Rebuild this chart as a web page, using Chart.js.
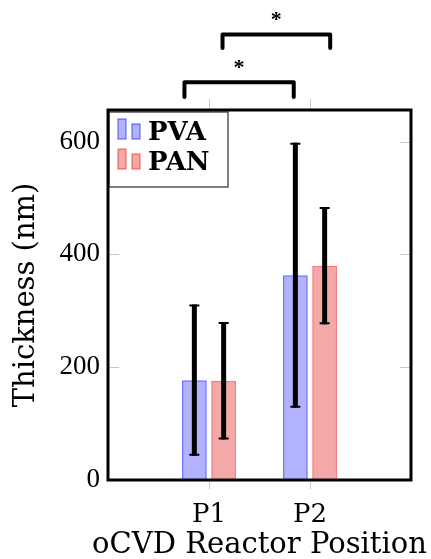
<!DOCTYPE html>
<html>
<head>
<meta charset="utf-8">
<script src="https://cdn.jsdelivr.net/npm/chart.js@4"></script>
<style>
  html, body { margin: 0; padding: 0; background: #fff; }
  #wrap { width: 431px; height: 559px; }
</style>
</head>
<body>
<div id="wrap"><canvas id="chart"></canvas></div>
<script>
// Données
const positions = ['', 'P1', 'P2', ''];
const pvaMean = [null, 177, 363, null];
const pvaErr = [null, 134, 235, null];
const panMean = [null, 176, 380, null];
const panErr = [null, 104, 104, null];
const yTicks = [0, 200, 400, 600];
const xTitle = 'oCVD Reactor Position';

// Crochets de significativité (x en index de catégorie, y en nm)
const bracketFrom = [0.757, 1.134];
const bracketTo = [1.839, 2.2];
const bracketLevel = [705, 790];
const bracketLeg = [679, 766];
const bracketStar = [739, 824];

const serif = '"DejaVu Serif", serif';

// Barres d'erreur
const errorBars = {
  id: 'errorBars',
  afterDatasetsDraw(chart) {
    const ctx = chart.ctx;
    const y = chart.scales.y;
    chart.data.datasets.forEach((ds, di) => {
      const meta = chart.getDatasetMeta(di);
      ds.errors.forEach((e, i) => {
        if (e == null || ds.data[i] == null) return;
        const x = meta.data[i].x;
        const top = y.getPixelForValue(ds.data[i] + e);
        const bot = y.getPixelForValue(ds.data[i] - e);
        ctx.save();
        ctx.strokeStyle = '#000';
        ctx.lineWidth = 5;
        ctx.beginPath();
        ctx.moveTo(x, top);
        ctx.lineTo(x, bot);
        ctx.stroke();
        ctx.lineWidth = 2;
        ctx.beginPath();
        ctx.moveTo(x - 5, top + 1);
        ctx.lineTo(x + 5, top + 1);
        ctx.moveTo(x - 5, bot - 1);
        ctx.lineTo(x + 5, bot - 1);
        ctx.stroke();
        ctx.restore();
      });
    });
  }
};

// Cadre, petites graduations, légende, titre x et crochets
const decorations = {
  id: 'decorations',
  afterDraw(chart) {
    const ctx = chart.ctx;
    const a = chart.chartArea;
    const xs = chart.scales.x;
    const ys = chart.scales.y;
    ctx.save();

    // graduations grises
    ctx.strokeStyle = '#c8c8c8';
    ctx.lineWidth = 1;
    ctx.beginPath();
    positions.forEach((p, i) => {
      if (!p) return;
      const x = Math.round(xs.getPixelForValue(i)) + 0.5;
      ctx.moveTo(x, a.bottom);
      ctx.lineTo(x, a.bottom + 9);
      ctx.moveTo(x, a.top);
      ctx.lineTo(x, a.top - 11);
    });
    yTicks.forEach(v => {
      if (v === 0) return;
      const y = Math.round(ys.getPixelForValue(v)) + 0.5;
      ctx.moveTo(a.left, y);
      ctx.lineTo(a.left + 11, y);
      ctx.moveTo(a.right, y);
      ctx.lineTo(a.right - 11, y);
    });
    ctx.stroke();

    // légende
    const lx = a.left + 1, ly = a.top + 2, lw = 119, lh = 75;
    ctx.fillStyle = '#fff';
    ctx.fillRect(lx, ly, lw, lh);
    ctx.strokeStyle = '#555';
    ctx.lineWidth = 1.5;
    ctx.strokeRect(lx, ly, lw, lh);
    chart.data.datasets.forEach((ds, di) => {
      const base = ly + 27 + di * 30;
      ctx.fillStyle = ds.backgroundColor;
      ctx.strokeStyle = ds.borderColor;
      ctx.lineWidth = 1.2;
      ctx.fillRect(lx + 9, base - 20, 8, 20);
      ctx.strokeRect(lx + 9, base - 20, 8, 20);
      ctx.fillRect(lx + 23, base - 15, 8, 15);
      ctx.strokeRect(lx + 23, base - 15, 8, 15);
      ctx.fillStyle = '#000';
      ctx.font = 'bold 26px ' + serif;
      ctx.textBaseline = 'alphabetic';
      ctx.textAlign = 'left';
      ctx.fillText(ds.label, lx + 39, base + 1);
    });

    // cadre
    ctx.strokeStyle = '#000';
    ctx.lineWidth = 3;
    ctx.strokeRect(a.left, a.top, a.right - a.left, a.bottom - a.top);

    // titre de l'axe x (plus large que l'axe, donc dessiné ici)
    ctx.fillStyle = '#000';
    ctx.font = '29px ' + serif;
    ctx.textAlign = 'center';
    ctx.textBaseline = 'alphabetic';
    ctx.fillText(xTitle, (a.left + a.right) / 2, chart.height - 6);

    // crochets
    ctx.lineWidth = 4;
    ctx.lineJoin = 'round';
    ctx.lineCap = 'round';
    bracketFrom.forEach((f, i) => {
      const x1 = xs.getPixelForValue(f);
      const x2 = xs.getPixelForValue(bracketTo[i]);
      const yl = ys.getPixelForValue(bracketLevel[i]);
      const yb = ys.getPixelForValue(bracketLeg[i]);
      ctx.beginPath();
      ctx.moveTo(x1, yb);
      ctx.lineTo(x1, yl);
      ctx.lineTo(x2, yl);
      ctx.lineTo(x2, yb);
      ctx.stroke();
      ctx.font = 'bold 22px "Liberation Serif", serif';
      ctx.fillText('*', (x1 + x2) / 2, ys.getPixelForValue(bracketStar[i]) + 11);
    });
    ctx.restore();
  }
};

new Chart(document.getElementById('chart'), {
  type: 'bar',
  data: {
    labels: positions,
    datasets: [
      {
        label: 'PVA',
        data: pvaMean,
        errors: pvaErr,
        backgroundColor: 'rgba(0, 0, 255, 0.3)',
        borderColor: 'rgba(40, 40, 255, 0.65)',
        borderWidth: 1.5
      },
      {
        label: 'PAN',
        data: panMean,
        errors: panErr,
        backgroundColor: 'rgba(225, 0, 0, 0.34)',
        borderColor: 'rgba(235, 40, 40, 0.6)',
        borderWidth: 1.5
      }
    ]
  },
  options: {
    responsive: true,
    maintainAspectRatio: false,
    animation: false,
    categoryPercentage: 0.58,
    barPercentage: 0.85,
    layout: { padding: { top: 110, right: 19, left: 0, bottom: 0 } },
    scales: {
      x: {
        offset: false,
        grid: { display: false, drawTicks: false },
        border: { display: false },
        ticks: {
          padding: 20,
          color: '#000',
          font: { family: serif, size: 26 }
        },
        afterFit(scale) { scale.height = 79; }
      },
      y: {
        min: 0,
        max: 656,
        grid: { display: false, drawTicks: false },
        border: { display: false },
        ticks: {
          stepSize: 200,
          padding: 8,
          color: '#000',
          font: { family: '"Liberation Serif", serif', size: 27 }
        },
        afterBuildTicks(scale) {
          scale.ticks = yTicks.map(v => ({ value: v }));
        },
        title: {
          display: true,
          text: 'Thickness (nm)',
          color: '#000',
          font: { family: serif, size: 29, lineHeight: 1 },
          padding: { top: 12, bottom: 0 }
        },
        afterFit(scale) { scale.width = 108; }
      }
    },
    plugins: {
      legend: { display: false },
      tooltip: { enabled: false }
    }
  },
  plugins: [errorBars, decorations]
});
</script>
</body>
</html>
